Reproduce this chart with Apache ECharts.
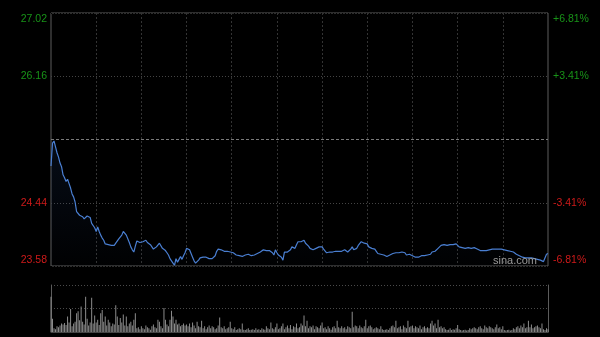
<!DOCTYPE html>
<html><head><meta charset="utf-8">
<script src="https://cdn.jsdelivr.net/npm/echarts@6/dist/echarts.min.js"></script>
<style>html,body{margin:0;padding:0;background:#000;}#c{width:600px;height:337px;}</style>
</head><body><div id="c"></div>
<script>
var prevClose = 25.30;
var priceMin = 23.58, priceMax = 27.02;
var leftLabels = ['23.58', '24.44', '', '26.16', '27.02'];
var rightLabels = ['-6.81%', '-3.41%', '', '+3.41%', '+6.81%'];

var prices = [
24.94,25.25,25.28,25.20,25.12,25.06,24.98,24.93,24.82,24.78,
24.73,24.76,24.70,24.64,24.56,24.52,24.45,24.32,24.31,24.27,
24.29,24.25,24.22,24.20,24.26,24.27,24.24,24.16,24.14,24.10,
24.05,24.11,24.05,24.00,23.96,23.93,23.88,23.86,23.87,23.89,
23.86,23.84,23.86,23.89,23.91,23.95,23.97,24.00,24.05,24.03,
24.00,23.98,23.90,23.84,23.80,23.77,23.85,23.92,23.93,23.90,
23.89,23.91,23.92,23.93,23.90,23.89,23.87,23.86,23.81,23.80,
23.84,23.86,23.89,23.90,23.82,23.80,23.79,23.76,23.73,23.68,
23.66,23.62,23.59,23.68,23.63,23.67,23.71,23.67,23.72,23.76,
23.82,23.81,23.80,23.75,23.70,23.65,23.62,23.64,23.66,23.69,
23.71,23.70,23.69,23.70,23.69,23.68,23.67,23.68,23.70,23.72,
23.78,23.81,23.82,23.80,23.79,23.78,23.77,23.78,23.77,23.77,
23.77,23.76,23.74,23.73,23.71,23.72,23.72,23.71,23.72,23.73,
23.74,23.74,23.73,23.72,23.73,23.73,23.74,23.75,23.76,23.77,
23.78,23.80,23.81,23.79,23.77,23.79,23.80,23.76,23.73,23.80,
23.76,23.73,23.72,23.70,23.66,23.77,23.75,23.77,23.79,23.80,
23.84,23.82,23.82,23.87,23.91,23.92,23.91,23.91,23.93,23.89,
23.87,23.85,23.82,23.81,23.80,23.81,23.82,23.83,23.84,23.84,
23.84,23.81,23.80,23.76,23.75,23.77,23.77,23.77,23.77,23.78,
23.78,23.78,23.78,23.78,23.78,23.80,23.79,23.77,23.79,23.81,
23.84,23.80,23.81,23.82,23.86,23.88,23.91,23.90,23.89,23.91,
23.88,23.84,23.83,23.82,23.81,23.81,23.78,23.75,23.75,23.74,
23.74,23.73,23.72,23.71,23.72,23.73,23.74,23.75,23.76,23.76,
23.76,23.76,23.77,23.77,23.76,23.76,23.73,23.74,23.74,23.73,
23.72,23.70,23.70,23.70,23.70,23.71,23.72,23.72,23.72,23.73,
23.73,23.73,23.74,23.77,23.77,23.78,23.80,23.82,23.84,23.86,
23.87,23.87,23.87,23.86,23.86,23.87,23.87,23.87,23.87,23.88,
23.88,23.84,23.84,23.83,23.82,23.82,23.83,23.83,23.82,23.82,
23.83,23.83,23.82,23.81,23.80,23.79,23.79,23.79,23.79,23.79,
23.79,23.80,23.80,23.81,23.81,23.81,23.81,23.81,23.81,23.81,
23.80,23.80,23.80,23.79,23.79,23.78,23.78,23.77,23.76,23.74,
23.73,23.72,23.71,23.70,23.69,23.69,23.69,23.69,23.69,23.69,
23.69,23.68,23.67,23.67,23.66,23.66,23.65,23.64,23.64,23.74,
23.75
];

var volumes = [
75,28,8,6,12,10,14,18,16,19,
15,33,20,49,12,18,22,40,44,25,
54,22,16,75,28,14,20,73,18,35,
20,26,15,40,47,22,33,14,26,20,
12,18,16,57,33,15,30,20,37,14,
33,12,18,22,14,26,40,8,10,6,
12,8,6,14,10,8,5,12,16,10,
8,26,22,12,8,51,26,16,12,26,
45,33,18,26,16,18,12,15,18,14,
16,12,18,10,20,14,8,22,12,10,
24,8,12,6,10,14,8,12,10,6,
8,14,31,10,8,12,6,8,10,22,
8,6,10,4,6,8,6,18,5,4,
6,8,4,5,6,4,8,5,6,4,
8,6,5,12,8,6,20,8,6,10,
18,6,8,12,18,6,10,14,8,15,
6,12,10,18,8,10,18,14,35,12,
24,8,12,10,14,6,12,10,8,14,
20,8,10,6,12,8,5,10,12,8,
24,10,8,12,8,10,6,12,10,8,
43,10,14,12,8,14,10,8,12,26,
8,12,14,10,6,8,10,8,6,12,
6,4,5,6,4,8,12,14,10,24,
8,10,12,6,14,10,8,24,10,12,
14,8,12,10,8,14,6,10,12,8,
10,8,18,24,14,18,8,26,10,12,
8,10,6,4,5,8,4,6,5,8,
15,6,4,3,4,5,3,4,8,6,
8,10,8,6,10,12,8,6,14,10,
8,12,10,8,6,10,16,8,10,6,
12,4,3,4,5,3,4,8,6,10,
12,8,14,10,18,8,10,24,10,16,
8,10,12,14,10,8,18,6,4,8,
6
];

// time categories (HK session)
var times = [];
function pad(n){return (n<10?'0':'')+n;}
for (var m = 9*60+30; m < 12*60; m++) times.push(pad(Math.floor(m/60))+':'+pad(m%60));
for (var m2 = 13*60; m2 <= 16*60; m2++) times.push(pad(Math.floor(m2/60))+':'+pad(m2%60));

var FONT = 'Liberation Sans';
var GREEN = '#189318', RED = '#cf1a1a';

var rich = {
  top: {color: GREEN, fontSize: 10.5, fontFamily: FONT, padding:[12,0,0,0]},
  g: {color: GREEN, fontSize: 10.5, fontFamily: FONT},
  r: {color: RED, fontSize: 10.5, fontFamily: FONT},
  bot: {color: RED, fontSize: 10.5, fontFamily: FONT, padding:[0,0,12,0]}
};
function styled(labels){
  return function(v){
    var i = Math.round(v);
    var t = labels[i];
    if (!t) return '';
    var s = i===4?'top':(i===3?'g':(i===1?'r':'bot'));
    return '{'+s+'|'+t+'}';
  };
}

var chart = echarts.init(document.getElementById('c'), null, {renderer:'canvas'});
chart.setOption({
  backgroundColor: '#000',
  animation: false,
  grid: [
    {left: 51, top: 13, width: 497, height: 253, show: true, borderColor: '#5c5c5c', borderWidth: 1, backgroundColor: 'transparent'},
    {left: 51, top: 285, width: 497, height: 47, show: false}
  ],
  xAxis: [
    {type: 'category', gridIndex: 0, data: times, boundaryGap: false,
     axisLine: {show: false}, axisTick: {show: false}, axisLabel: {show: false},
     splitLine: {show: true, interval: function(i){return i%30===0 && i>0 && i<330;},
       lineStyle: {color: '#333', type: [2,2], width: 1}}},
    {type: 'category', gridIndex: 1, data: times, boundaryGap: false,
     axisLine: {show: true, lineStyle: {color: '#444'}}, axisTick: {show: false}, axisLabel: {show: false},
     splitLine: {show: false}}
  ],
  yAxis: [
    {type: 'value', gridIndex: 0, min: priceMin, max: priceMax, show: false, splitLine:{show:false}},
    {type: 'value', gridIndex: 0, min: 0, max: 4, interval: 1, position: 'left',
     axisLine: {show: false}, axisTick: {show: false},
     axisLabel: {formatter: styled(leftLabels), margin: 4, rich: rich},
     splitLine: {show: true, lineStyle: {color: ['#000','#444','#000','#444','#000'], type: [1,2], width: 1}}},
    {type: 'value', gridIndex: 0, min: 0, max: 4, interval: 1, position: 'right',
     axisLine: {show: false}, axisTick: {show: false},
     axisLabel: {formatter: styled(rightLabels), margin: 5, rich: rich},
     splitLine: {show: false}},
    {type: 'value', gridIndex: 1, min: 0, max: 100, interval: 50, position: 'left',
     axisLine: {show: true, lineStyle: {color: '#5c5c5c'}}, axisTick: {show: false}, axisLabel: {show: false},
     splitLine: {show: true, lineStyle: {color: '#4a4a4a', type: [1,2]}}},
    {type: 'value', gridIndex: 1, min: 0, max: 100, interval: 50, position: 'right',
     axisLine: {show: true, lineStyle: {color: '#5c5c5c'}}, axisTick: {show: false}, axisLabel: {show: false},
     splitLine: {show: false}}
  ],
  series: [
    {type: 'line', xAxisIndex: 0, yAxisIndex: 0, data: prices, showSymbol: false, smooth: false,
     lineStyle: {color: '#4a7fd2', width: 1.2},
     areaStyle: {origin: 'start', color: new echarts.graphic.LinearGradient(0,0,0,1,[
       {offset:0, color:'rgba(40,80,150,0.22)'},{offset:1, color:'rgba(40,80,150,0.02)'}])},
     markLine: {silent: true, symbol: 'none', label: {show: false},
       lineStyle: {color: '#7a7a7a', type: [3,2], width: 1},
       data: [{yAxis: prevClose}]}},
    {type: 'bar', xAxisIndex: 1, yAxisIndex: 3, data: volumes, barWidth: 1,
     itemStyle: {color: '#8c8c8c'}}
  ],
  graphic: [
    {type: 'text', right: 63, top: 255, style: {text: 'sina.com', fill: '#9c9c9c', font: '11px "Liberation Sans"'}, z: 10}
  ]
});
</script></body></html>
